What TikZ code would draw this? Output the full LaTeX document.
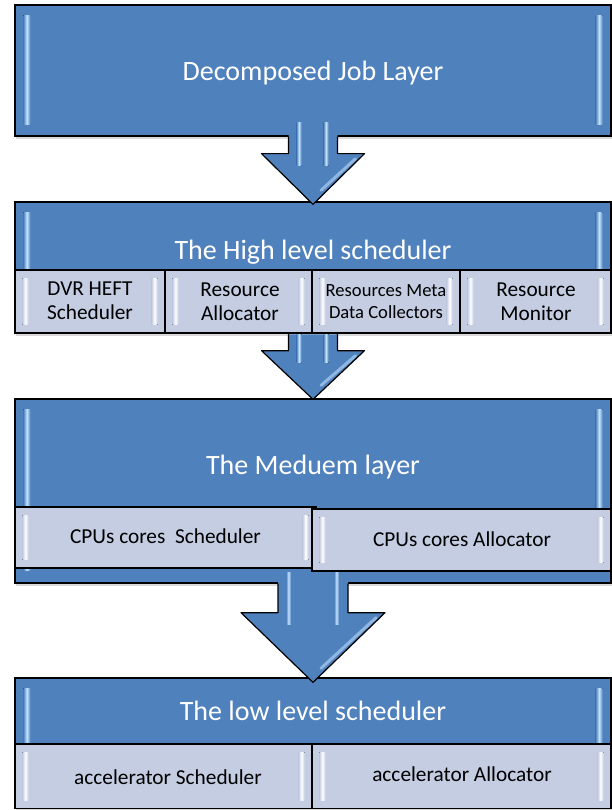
\documentclass[tikz,border=0pt]{standalone}
\usepackage{fontspec}
\setmainfont{Carlito}
\usetikzlibrary{calc,shadows}
\definecolor{bblue}{HTML}{4F81BD}
\definecolor{lav}{HTML}{C5CDE2}
\definecolor{hl}{HTML}{C4E4FF}
\tikzset{
  bigbox/.style={draw=black, line width=1.3pt, fill=bblue, rectangle, inner sep=0pt,
    drop shadow={shadow xshift=1pt, shadow yshift=-3pt, opacity=0.3}},
  subbox/.style={draw=black, line width=1.1pt, fill=lav, rectangle, inner sep=0pt},
  titletext/.style={text=white, font=\fontsize{28}{32}\selectfont, inner sep=0pt, anchor=base},
  subtext/.style={text=black, font=\fontsize{21.3}{24}\selectfont, align=center, inner sep=0pt, anchor=base},
  smalltext/.style={text=black, font=\fontsize{18.6}{22.5}\selectfont, align=center, inner sep=0pt, anchor=base},
  arrowline/.style={draw=black, line width=1.2pt, line join=round},
  bigstrip/.style={left color=bblue, right color=bblue, middle color=hl},
  substrip/.style={left color=lav, right color=lav, middle color=white},
}
% big box bevel strips: #1 node, #2 bottom of strip measured from top
\newcommand\bigbevel[2]{%
  \fill[bigstrip] ($(#1.north west)+(9,11)$) rectangle ($(#1.north west)+(16,#2)$);
  \fill[bigstrip] ($(#1.north east)+(-16,11)$) rectangle ($(#1.north east)+(-9,#2)$);
}
\newcommand\subbevel[1]{%
  \fill[substrip] ($(#1.north west)+(8,9)$) rectangle ($(#1.south west)+(14,-9)$);
  \fill[substrip] ($(#1.north east)+(-14,9)$) rectangle ($(#1.south east)+(-8,-9)$);
}
% block arrow: #1 name, #2 from, #3 to, #4 shaft hw, #5 head hw, #6 shaft up, #7 head down, #8 tip down
\newcommand\blockarrow[8]{%
  \coordinate (#1-s) at (#2.south);
  \coordinate (#1-t) at ($(#2.south |- #3.north)+(0,#8)$);
  \fill[bblue] ($(#1-s)+(-#4,-#6)$) -- ($(#1-s)+(-#4,#7)$) -- ($(#1-s)+(-#5,#7)$) -- (#1-t)
     -- ($(#1-s)+(#5,#7)$) -- ($(#1-s)+(#4,#7)$) -- ($(#1-s)+(#4,-#6)$) -- cycle;
  \fill[bigstrip] ($(#1-s)+(-#4,-#6)+(8,0)$) rectangle ($(#1-s)+(-#4,#7)+(13,12)$);
  \fill[bigstrip] ($(#1-s)+(#4,-#6)+(-14,0)$) rectangle ($(#1-s)+(#4,#7)+(-9,12)$);
  \draw[hl, line width=3pt, line cap=round, opacity=0.55]
     ($(#1-s)+(#5,#7)+(-9,5)$) -- ($(#1-t)+(8,-14)$);
  \draw[arrowline] ($(#1-s)+(-#4,0)$) -- ($(#1-s)+(-#4,#7)$) -- ($(#1-s)+(-#5,#7)$) -- (#1-t)
     -- ($(#1-s)+(#5,#7)$) -- ($(#1-s)+(#4,#7)$) -- ($(#1-s)+(#4,0)$);
}
\begin{document}
\begin{tikzpicture}[x=1pt,y=-1pt]
\useasboundingbox (0,0) rectangle (612,810);

% ---- Box 1
\node[bigbox, minimum width=596pt, minimum height=131pt] (b1) at (313,70.5) {};
\bigbevel{b1}{120}
\node[titletext] (t1) at (313,81) {Decomposed Job Layer};

% ---- Box 2
\node[bigbox, minimum width=596pt, minimum height=131pt] (b2) at (313,267.5) {};
\bigbevel{b2}{68}
\node[titletext] (t2) at (313,259) {The High level scheduler};
\node[subbox, minimum width=150pt, minimum height=63pt] (s21) at (90,301.5) {};
\node[subbox, minimum width=147pt, minimum height=63pt] (s22) at (238.5,301.5) {};
\node[subbox, minimum width=148pt, minimum height=63pt] (s23) at (386,301.5) {};
\node[subbox, minimum width=151pt, minimum height=63pt] (s24) at (535.5,301.5) {};
\subbevel{s21}\subbevel{s22}\subbevel{s23}\subbevel{s24}
\node[subtext] (x21) at (90,319.5) {DVR HEFT\\Scheduler};
\node[subtext] (x22) at (240,320) {Resource\\Allocator};
\node[smalltext] (x23) at (386,318.5) {Resources Meta\\Data Collectors};
\node[subtext] (x24) at (536,320.5) {Resource\\Monitor};

% ---- Box 3
\node[bigbox, minimum width=596pt, minimum height=184pt] (b3) at (313,491) {};
\bigbevel{b3}{172}
\node[titletext] (t3) at (313,474) {The Meduem layer};
\node[subbox, minimum width=301pt, minimum height=61pt] (s31) at (165.5,537.5) {};
\node[subbox, minimum width=299pt, minimum height=62pt] (s32) at (461.5,540) {};
\subbevel{s31}\subbevel{s32}
\node[subtext] (x31) at (165.5,543) {CPUs cores~~Scheduler};
\node[subtext] (x32) at (462,546) {CPUs cores Allocator};

% ---- Box 4
\node[bigbox, minimum width=596pt, minimum height=130.5pt] (b4) at (313,743.25) {};
\bigbevel{b4}{66}
\node[titletext] (t4) at (313,720) {The low level scheduler};
\node[subbox, minimum width=297pt, minimum height=64.5pt] (s41) at (163.5,776.25) {};
\node[subbox, minimum width=299pt, minimum height=64.5pt] (s42) at (461.5,776.25) {};
\subbevel{s41}\subbevel{s42}
\node[subtext] (x41) at (168,784) {accelerator Scheduler};
\node[subtext] (x42) at (462,781) {accelerator Allocator};

% ---- Arrows
\blockarrow{a1}{b1}{b2}{24.5}{51.5}{14}{17}{3}
\blockarrow{a2}{b2}{b3}{24.5}{51.5}{-0.6}{17}{1}
\blockarrow{a3}{b3}{b4}{35}{72}{11}{29}{5}
\end{tikzpicture}
\end{document}
